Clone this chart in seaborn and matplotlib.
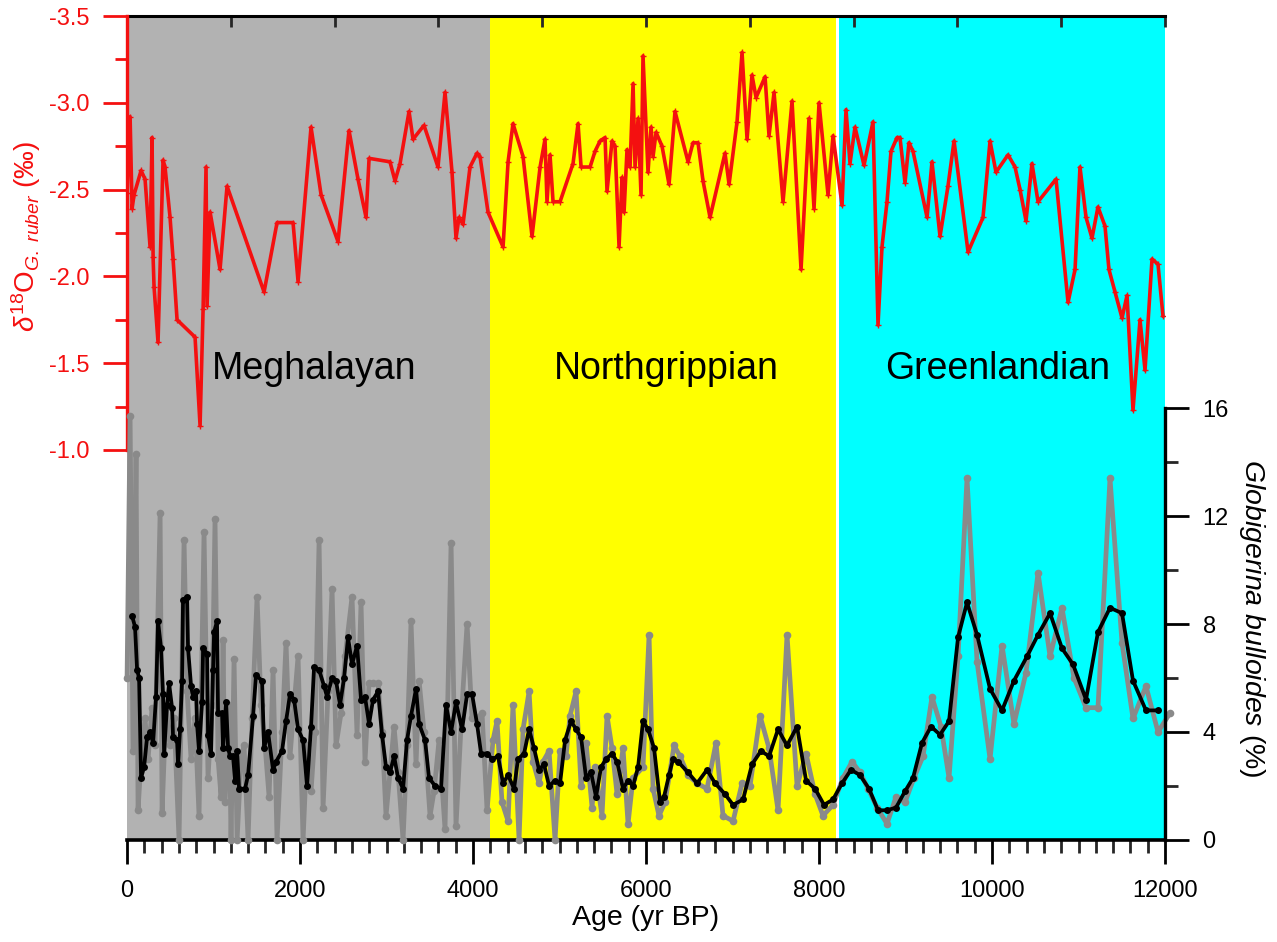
import numpy as np
import pandas as pd
import matplotlib
matplotlib.use("Agg")
import matplotlib.pyplot as plt
from matplotlib.ticker import FixedLocator, MultipleLocator
import seaborn as sns

# ---------------- data ----------------
red_age = [0, 35, 58, 81, 162, 208, 266, 289, 301, 312, 358, 416, 439, 497, 532, 578, 786, 844, 879, 913,
           925, 960, 1075, 1156, 1584, 1734, 1919, 1977, 2127, 2243, 2439, 2566, 2670, 2763, 2798, 3040, 3098,
           3156, 3260, 3306, 3433, 3595, 3676, 3757, 3803, 3838, 3884, 3965, 4046, 4081, 4173, 4347, 4405,
           4462, 4578, 4682, 4775, 4832, 4855, 4890, 4925, 5006, 5156, 5214, 5249, 5353, 5410, 5468, 5526,
           5549, 5607, 5642, 5688, 5723, 5746, 5780, 5815, 5850, 5873, 5908, 5942, 5965, 6023, 6058, 6081,
           6116, 6185, 6266, 6335, 6486, 6543, 6601, 6659, 6740, 6913, 6960, 7052, 7110, 7168, 7225, 7272,
           7376, 7422, 7480, 7584, 7688, 7792, 7884, 7942, 8000, 8104, 8162, 8266, 8312, 8358, 8416, 8520,
           8624, 8682, 8728, 8786, 8832, 8902, 8936, 8994, 9040, 9087, 9249, 9306, 9399, 9491, 9561, 9723,
           9896, 9977, 10046, 10185, 10266, 10324, 10393, 10462, 10532, 10740, 10879, 10960, 11017, 11087,
           11156, 11225, 11306, 11352, 11422, 11503, 11561, 11630, 11711, 11769, 11850, 11919, 11977]
red_d18o = [-2.48, -2.92, -2.39, -2.47, -2.61, -2.56, -2.17, -2.80, -2.11, -1.94, -1.62, -2.67, -2.63, -2.34,
            -2.10, -1.75, -1.65, -1.14, -1.81, -2.63, -1.83, -2.37, -2.04, -2.52, -1.91, -2.31, -2.31, -1.97,
            -2.86, -2.47, -2.20, -2.84, -2.56, -2.34, -2.68, -2.66, -2.55, -2.65, -2.95, -2.79, -2.87, -2.63,
            -3.06, -2.60, -2.22, -2.34, -2.30, -2.63, -2.71, -2.69, -2.37, -2.17, -2.66, -2.88, -2.69, -2.23,
            -2.63, -2.79, -2.43, -2.70, -2.43, -2.43, -2.65, -2.88, -2.63, -2.63, -2.72, -2.78, -2.80, -2.49,
            -2.78, -2.75, -2.17, -2.57, -2.37, -2.73, -2.63, -3.11, -2.63, -2.91, -2.47, -3.27, -2.60, -2.86,
            -2.69, -2.83, -2.75, -2.53, -2.95, -2.66, -2.77, -2.77, -2.55, -2.34, -2.71, -2.53, -2.89, -3.29,
            -2.79, -3.16, -3.03, -3.15, -2.81, -3.06, -2.43, -3.01, -2.04, -2.91, -2.39, -3.00, -2.47, -2.81,
            -2.41, -2.96, -2.65, -2.86, -2.64, -2.89, -1.72, -2.17, -2.43, -2.72, -2.80, -2.80, -2.54, -2.77,
            -2.72, -2.34, -2.66, -2.23, -2.52, -2.78, -2.14, -2.34, -2.78, -2.60, -2.70, -2.63, -2.50, -2.32,
            -2.65, -2.43, -2.56, -1.85, -2.04, -2.63, -2.34, -2.22, -2.40, -2.29, -2.04, -1.91, -1.76, -1.89,
            -1.23, -1.75, -1.46, -2.10, -2.07, -1.77]

gb_age = [0, 35, 69, 104, 127, 162, 208, 243, 289, 324, 382, 405, 451, 497, 543, 601, 659, 694, 740, 786,
          832, 890, 936, 983, 1017, 1052, 1087, 1110, 1133, 1179, 1202, 1237, 1272, 1318, 1353, 1399, 1445,
          1503, 1549, 1595, 1642, 1688, 1734, 1792, 1838, 1884, 1931, 1977, 2035, 2081, 2127, 2173, 2220,
          2266, 2324, 2370, 2416, 2474, 2520, 2601, 2659, 2705, 2751, 2798, 2844, 2902, 2948, 2994, 3040,
          3087, 3133, 3191, 3237, 3283, 3341, 3376, 3434, 3503, 3549, 3607, 3676, 3746, 3803, 3873, 3931,
          3989, 4046, 4104, 4162, 4231, 4277, 4335, 4405, 4462, 4532, 4578, 4648, 4694, 4763, 4809, 4879,
          4948, 5006, 5075, 5121, 5191, 5249, 5307, 5376, 5410, 5491, 5549, 5607, 5665, 5734, 5792, 5850,
          5965, 6035, 6081, 6150, 6220, 6324, 6393, 6486, 6590, 6705, 6809, 6890, 7006, 7110, 7202, 7318,
          7422, 7526, 7630, 7746, 7850, 7954, 8046, 8162, 8277, 8382, 8474, 8567, 8671, 8786, 8890, 8994,
          9098, 9202, 9306, 9410, 9503, 9607, 9711, 9827, 9977, 10116, 10254, 10393, 10532, 10671, 10809,
          10948, 11087, 11225, 11364, 11503, 11630, 11780, 11919, 12058]
gb_raw = [6.0, 15.7, 3.3, 14.3, 1.1, 3.0, 4.5, 3.0, 4.9, 3.5, 12.1, 1.0, 5.0, 3.5, 4.5, 0.0, 11.1, 5.5, 3.0,
          4.5, 0.9, 11.4, 2.3, 5.0, 11.9, 3.0, 1.6, 7.4, 1.4, 5.0, 0.0, 6.7, 0.0, 3.0, 3.5, 0.0, 4.5, 9.0,
          5.0, 3.5, 1.6, 6.3, 0.0, 4.0, 7.3, 3.1, 5.0, 6.8, 0.0, 3.5, 1.8, 4.0, 11.1, 1.2, 5.5, 9.3, 3.5,
          4.7, 6.8, 9.0, 3.9, 8.8, 2.9, 5.8, 5.8, 5.8, 4.0, 0.9, 2.5, 4.2, 2.5, 0.0, 3.5, 8.1, 2.8, 5.9,
          4.0, 0.9, 1.8, 3.7, 0.4, 11.0, 0.5, 5.0, 8.0, 4.5, 4.5, 4.7, 1.1, 3.7, 4.4, 1.4, 0.7, 5.0, 0.0,
          4.1, 5.5, 2.9, 2.1, 2.9, 3.3, 0.0, 3.3, 3.1, 4.6, 5.5, 2.0, 3.6, 1.2, 2.7, 0.9, 4.6, 3.4, 1.7,
          3.4, 0.6, 2.3, 2.7, 7.6, 1.9, 0.9, 1.4, 3.5, 3.1, 2.4, 2.1, 1.9, 3.6, 0.9, 0.7, 2.1, 2.0, 4.6,
          3.4, 1.1, 7.6, 2.0, 3.2, 1.7, 0.9, 1.3, 2.3, 2.9, 2.5, 1.9, 1.2, 0.6, 1.6, 1.4, 2.3, 3.1, 5.3,
          4.2, 2.3, 6.8, 13.4, 6.6, 3.0, 7.2, 4.3, 6.2, 9.9, 6.8, 8.6, 6.0, 4.9, 4.9, 13.4, 7.3, 4.5, 5.7,
          4.0, 4.7]

sm_age = [58, 92, 116, 139, 162, 197, 231, 266, 301, 335, 358, 393, 416, 428, 462, 486, 520, 532, 578, 590,
          613, 636, 647, 694, 705, 740, 763, 798, 809, 832, 867, 879, 925, 936, 971, 994, 1006, 1040, 1052,
          1098, 1110, 1145, 1168, 1191, 1225, 1249, 1272, 1295, 1364, 1399, 1457, 1491, 1561, 1584, 1630,
          1688, 1723, 1792, 1838, 1884, 1931, 1977, 2035, 2081, 2127, 2162, 2220, 2278, 2312, 2370, 2416,
          2462, 2509, 2555, 2601, 2659, 2705, 2751, 2798, 2844, 2902, 2948, 2994, 3040, 3087, 3133, 3191,
          3237, 3283, 3341, 3376, 3445, 3491, 3561, 3630, 3688, 3746, 3803, 3873, 3931, 3989, 4046, 4093,
          4162, 4220, 4289, 4347, 4405, 4474, 4520, 4590, 4648, 4705, 4763, 4821, 4879, 4948, 5006, 5064,
          5133, 5191, 5249, 5307, 5364, 5422, 5480, 5538, 5607, 5665, 5734, 5792, 5850, 5908, 5965, 6023,
          6093, 6162, 6208, 6266, 6312, 6370, 6486, 6590, 6705, 6798, 6913, 7006, 7122, 7225, 7329, 7422,
          7526, 7630, 7746, 7850, 7954, 8058, 8162, 8266, 8370, 8474, 8578, 8682, 8786, 8890, 8994, 9087,
          9191, 9295, 9399, 9503, 9607, 9711, 9827, 9977, 10116, 10254, 10405, 10532, 10671, 10809, 10937,
          11087, 11225, 11364, 11503, 11630, 11780, 11919]
gb_smooth = [8.3, 7.9, 6.3, 6.0, 2.3, 2.7, 3.8, 4.0, 3.6, 5.3, 8.1, 7.1, 5.4, 3.2, 5.0, 5.8, 4.9, 3.8, 3.7,
             2.8, 4.1, 5.9, 8.9, 9.0, 7.1, 5.7, 5.3, 5.5, 4.3, 3.3, 5.1, 7.1, 6.9, 3.9, 3.2, 6.3, 7.7, 8.1,
             4.7, 4.7, 3.4, 5.1, 3.4, 3.1, 3.1, 2.2, 3.3, 1.9, 1.9, 2.4, 4.6, 6.1, 5.9, 3.4, 4.0, 2.6, 2.9,
             3.3, 4.4, 5.4, 5.2, 4.1, 3.7, 2.0, 4.2, 6.4, 6.3, 5.7, 5.3, 6.0, 5.9, 5.0, 6.0, 7.5, 6.5, 7.2,
             5.2, 5.3, 4.3, 5.2, 5.5, 3.9, 2.7, 2.5, 3.1, 2.3, 1.9, 3.7, 4.6, 5.6, 4.3, 3.7, 2.3, 2.0, 1.9,
             5.0, 4.0, 5.1, 4.1, 5.4, 5.4, 4.3, 3.2, 3.2, 3.0, 3.1, 2.1, 2.4, 1.9, 3.0, 3.2, 4.1, 3.4, 2.6,
             2.8, 2.0, 2.2, 2.1, 3.7, 4.4, 4.1, 3.8, 2.3, 2.5, 1.6, 2.7, 3.0, 3.2, 2.9, 1.9, 2.2, 2.0, 2.7,
             4.4, 4.1, 3.4, 1.4, 1.6, 2.4, 3.0, 2.9, 2.5, 2.1, 2.6, 2.1, 1.7, 1.3, 1.5, 2.8, 3.3, 3.1, 4.1,
             3.5, 4.2, 2.2, 1.9, 1.3, 1.5, 2.1, 2.6, 2.4, 1.9, 1.1, 1.1, 1.2, 1.8, 2.3, 3.6, 4.2, 3.9, 4.4,
             7.5, 8.8, 7.6, 5.6, 4.8, 5.9, 6.8, 7.6, 8.4, 7.1, 6.5, 5.2, 7.7, 8.6, 8.4, 5.9, 4.8, 4.8]

period_names = ["Meghalayan", "Northgrippian", "Greenlandian"]
period_start = [0, 4200, 8230]
period_end = [4200, 8200, 12000]
period_colors = ["#B2B2B2", "#FFFF00", "#00FFFF"]
period_label_x = [2160, 6230, 10060]

x_ticks = [0, 2000, 4000, 6000, 8000, 10000, 12000]
left_ticks = [-3.5, -3.0, -2.5, -2.0, -1.5, -1.0]
left_minor = [-3.25, -2.75, -2.25, -1.75, -1.25]
right_ticks = [0, 4, 8, 12, 16]
right_minor = [2, 6, 10, 14]

# ---------------- style ----------------
sns.set_theme(style="white")
plt.rcParams["font.family"] = ["Liberation Sans", "DejaVu Sans"]
plt.rcParams["mathtext.fontset"] = "custom"
plt.rcParams["mathtext.rm"] = "Liberation Sans"
plt.rcParams["mathtext.it"] = "Liberation Sans:italic"
plt.rcParams["mathtext.bf"] = "Liberation Sans:bold"

RED = "#F41010"
fig = plt.figure(figsize=(12.77, 9.42), dpi=100)
ax = fig.add_axes([0.0995, 0.1083, 0.8128, 0.8747])
ax2 = ax.twinx()

# period backgrounds
for s, e, c in zip(period_start, period_end, period_colors):
    ax.axvspan(s, e, color=c, zorder=0, lw=0)

# red d18O on the main (left) axis
red_df = pd.DataFrame({"age": red_age, "d18o": red_d18o})
sns.lineplot(data=red_df, x="age", y="d18o", ax=ax, color=RED, linewidth=2.6, sort=False,
             estimator=None, marker="+", markersize=5, markeredgewidth=1.0, markeredgecolor=RED, zorder=3)

# Globigerina bulloides on right axis
raw_df = pd.DataFrame({"age": gb_age, "pct": gb_raw})
sm_df = pd.DataFrame({"age": sm_age, "pct": gb_smooth})
sns.lineplot(data=raw_df, x="age", y="pct", ax=ax2, color="#8A8A8A", linewidth=3.4, sort=False,
             estimator=None, marker="o", markersize=5.5, markeredgewidth=0, clip_on=False, zorder=2)
sns.lineplot(data=sm_df, x="age", y="pct", ax=ax2, color="black", linewidth=2.7, sort=False,
             estimator=None, marker="o", markersize=5, markeredgewidth=0, zorder=3)

# period labels
for name, xp in zip(period_names, period_label_x):
    ax.text(xp, -1.41, name, ha="center", va="baseline", fontsize=27, color="black", zorder=5)

# axes limits
ax.set_xlim(0, 12000)
ax.set_ylim(1.247, -3.5)
ax2.set_ylim(0, 30.52)

# x axis
ax.xaxis.set_major_locator(FixedLocator(x_ticks))
ax.xaxis.set_minor_locator(MultipleLocator(200))
ax.tick_params(axis="x", which="major", direction="out", length=17, width=2, labelsize=17, pad=12,
               colors="black", bottom=True, top=False)
ax.tick_params(axis="x", which="minor", direction="out", length=9, width=2, bottom=True, top=False)
ax.set_xlabel("Age (yr BP)", fontsize=20.5, color="black")
ax.xaxis.set_label_coords(0.5, -0.079)
ax.xaxis.label.set_va("top")

# top ticks (inward, 10 divisions)
sec = ax.secondary_xaxis("top")
sec.set_xticks(np.linspace(0, 12000, 11))
sec.tick_params(axis="x", direction="in", length=8, width=2, labeltop=False, labelbottom=False)
sec.spines["top"].set_linewidth(2.2)
sec.spines["top"].set_color("black")

# left axis (red)
ax.yaxis.set_major_locator(FixedLocator(left_ticks))
ax.yaxis.set_minor_locator(FixedLocator(left_minor))
ax.set_yticklabels([f"{v:.1f}" for v in left_ticks])
ax.tick_params(axis="y", which="major", direction="out", length=17, width=2, labelsize=17, pad=10,
               colors=RED, left=True, right=False)
ax.tick_params(axis="y", which="minor", direction="out", length=9, width=2, colors=RED, left=True)
ax.set_ylabel(r"$\delta^{18}$O$_{\mathit{G.\ ruber}}$ (‰)", fontsize=20, color=RED)
ax.yaxis.set_label_coords(-0.097, 0.732)
ax.yaxis.label.set_va("center")

ax.spines["left"].set_color(RED)
ax.spines["left"].set_linewidth(2.4)
ax.spines["left"].set_bounds(-3.5, -1.0)
ax.spines["right"].set_visible(False)
ax.spines["top"].set_visible(False)
ax.spines["bottom"].set_color("black")
ax.spines["bottom"].set_linewidth(2.6)

# right axis
ax2.yaxis.set_major_locator(FixedLocator(right_ticks))
ax2.yaxis.set_minor_locator(FixedLocator(right_minor))
ax2.tick_params(axis="y", which="major", direction="out", length=17, width=2, labelsize=17, pad=10,
                colors="black", right=True, left=False)
ax2.tick_params(axis="y", which="minor", direction="out", length=9, width=2, right=True, left=False)
for sp in ["left", "top", "bottom"]:
    ax2.spines[sp].set_visible(False)
ax2.spines["right"].set_color("black")
ax2.spines["right"].set_linewidth(2.4)
ax2.spines["right"].set_bounds(0, 16)
ax2.set_ylabel(r"$\mathit{Globigerina\ bulloides}$ (%)", fontsize=20.5, color="black", rotation=270)
ax2.yaxis.set_label_coords(1.084, 0.269)
ax2.yaxis.label.set_va("center")
ax2.set_xlabel("")
ax2.grid(False)
ax.grid(False)

fig.savefig("out.png", dpi=100)
